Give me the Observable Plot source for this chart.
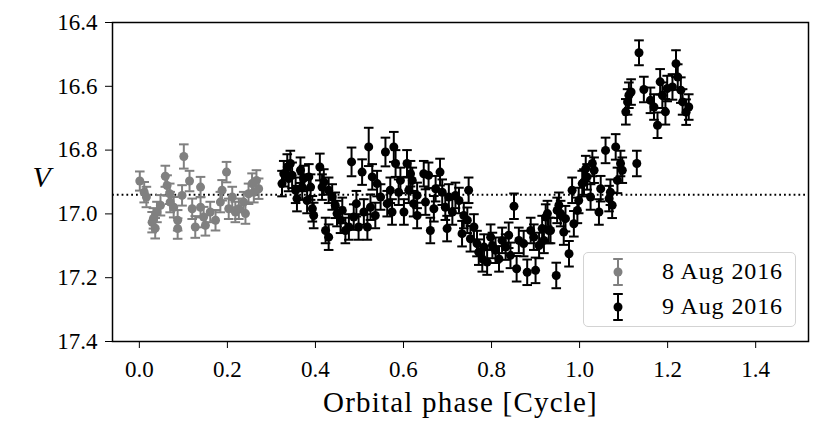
<!DOCTYPE html>
<html><head><meta charset="utf-8">
<script src="https://cdn.jsdelivr.net/npm/d3@7"></script>
<script src="https://cdn.jsdelivr.net/npm/@observablehq/plot@0.6"></script>
<style>
body{margin:0;background:#fff;}
#wrap{position:relative;width:831px;height:435px;font-family:"Liberation Serif",serif;}
.legend{position:absolute;left:583px;top:252px;width:213px;height:75px;border:1.3px solid #d3d3d3;border-radius:5px;background:rgba(255,255,255,0.85);box-sizing:border-box;}
.legend svg{position:absolute;left:0;top:0;}
.legend span{position:absolute;left:78px;font-size:24px;line-height:24px;letter-spacing:0.9px;white-space:nowrap;color:#000;}
</style></head><body><div id="wrap"></div>
<script>
// ---- data ----
const xTicks = [0, 0.2, 0.4, 0.6, 0.8, 1.0, 1.2, 1.4];
const yTicks = [16.4, 16.6, 16.8, 17.0, 17.2, 17.4];
const meanMag = 16.94;
const seriesNames = ["8 Aug 2016", "9 Aug 2016"];

const grayPhase = [0.001,0.011,0.016,0.029,0.036,0.032,0.040,0.048,0.059,0.063,
  0.069,0.070,0.078,0.087,0.087,0.097,0.101,0.114,0.120,0.127,
  0.139,0.139,0.146,0.150,0.161,0.173,0.184,0.188,0.198,0.203,
  0.211,0.218,0.226,0.237,0.241,0.248,0.256,0.260,0.266,0.271];
const grayMag = [16.897,16.932,16.947,17.026,17.045,17.014,16.994,16.973,16.882,16.911,
  16.937,16.963,16.979,17.046,17.020,16.942,16.820,16.897,16.984,17.041,
  16.916,16.979,17.010,17.036,16.994,17.020,16.963,16.926,16.869,16.984,
  16.947,16.994,16.984,16.963,16.999,16.937,16.905,16.932,16.895,16.921];
const grayErr = [0.030,0.032,0.032,0.032,0.032,0.032,0.032,0.032,0.033,0.032,
  0.032,0.032,0.032,0.032,0.032,0.032,0.038,0.032,0.032,0.034,
  0.032,0.032,0.032,0.032,0.032,0.032,0.032,0.032,0.032,0.032,
  0.032,0.032,0.032,0.032,0.032,0.032,0.032,0.032,0.032,0.032];

const blackPhase = [0.324,0.328,0.336,0.343,0.339,0.347,0.355,0.358,0.366,0.370,
  0.373,0.381,0.385,0.389,0.393,0.396,0.410,0.415,0.419,0.423,
  0.430,0.430,0.438,0.445,0.449,0.457,0.461,0.468,0.476,0.482,
  0.487,0.493,0.498,0.506,0.510,0.518,0.521,0.525,0.529,0.536,
  0.540,0.548,0.559,0.563,0.570,0.574,0.578,0.582,0.589,0.593,
  0.601,0.608,0.612,0.616,0.623,0.631,0.620,0.631,0.646,0.650,
  0.657,0.661,0.669,0.673,0.683,0.688,0.695,0.699,0.703,0.711,
  0.718,0.726,0.733,0.737,0.745,0.748,0.752,0.760,0.767,0.771,
  0.779,0.783,0.790,0.798,0.802,0.809,0.817,0.824,0.832,0.839,
  0.851,0.843,0.857,0.862,0.873,0.881,0.889,0.896,0.900,0.908,
  0.915,0.923,0.927,0.934,0.947,0.949,0.919,0.930,0.953,0.957,
  0.964,0.968,0.976,0.983,0.987,0.995,0.998,1.006,1.014,1.017,
  1.025,1.029,1.033,1.044,1.048,1.059,1.067,1.070,1.074,1.082,
  1.086,1.093,1.097,1.130,1.010,1.135,1.105,1.109,1.112,1.117,
  1.146,1.161,1.169,1.177,1.183,1.188,1.195,1.199,1.211,1.219,
  1.223,1.230,1.234,1.242,1.248];
const blackMag = [16.905,16.874,16.853,16.842,16.889,16.879,16.926,16.952,16.863,16.916,
  16.889,16.958,16.884,16.916,16.984,17.005,16.853,16.916,16.900,17.052,
  17.073,16.926,16.947,16.973,16.999,17.020,16.989,17.052,17.041,16.837,
  17.010,16.968,17.041,16.869,16.994,17.041,16.790,16.979,16.884,17.005,
  16.905,16.947,16.806,16.968,16.926,16.994,16.790,16.842,16.932,16.895,
  16.994,16.842,16.926,16.874,16.968,16.942,16.895,17.005,16.874,16.963,
  16.879,17.052,16.984,16.921,16.869,16.932,16.979,17.046,16.947,16.994,
  16.942,16.958,17.062,17.005,17.020,16.926,17.078,17.041,17.093,17.120,
  17.141,17.104,17.151,17.073,17.099,17.114,17.141,17.083,17.104,17.067,
  16.976,17.130,17.172,17.083,17.093,17.183,17.052,17.073,17.177,17.099,
  17.046,17.010,16.999,17.052,17.193,16.989,17.083,17.052,16.973,16.999,
  17.057,17.015,17.125,16.926,17.031,16.989,16.958,16.905,16.858,16.884,
  16.947,16.842,16.863,16.994,16.921,16.801,16.952,16.932,16.973,16.790,
  16.895,16.842,16.863,16.842,16.900,16.495,16.680,16.649,16.628,16.618,
  16.610,16.644,16.665,16.722,16.586,16.628,16.680,16.607,16.602,16.529,
  16.571,16.612,16.649,16.681,16.665];
const blackErr = [0.040,0.040,0.040,0.040,0.040,0.040,0.040,0.040,0.040,0.040,
  0.040,0.040,0.040,0.040,0.040,0.040,0.042,0.040,0.040,0.040,
  0.040,0.040,0.040,0.040,0.040,0.040,0.040,0.040,0.040,0.045,
  0.040,0.040,0.040,0.040,0.040,0.040,0.060,0.040,0.040,0.040,
  0.040,0.040,0.045,0.040,0.040,0.040,0.047,0.042,0.040,0.040,
  0.040,0.042,0.040,0.040,0.040,0.040,0.040,0.040,0.040,0.040,
  0.040,0.040,0.040,0.040,0.042,0.040,0.040,0.040,0.040,0.040,
  0.040,0.040,0.040,0.040,0.040,0.040,0.040,0.040,0.040,0.040,
  0.040,0.040,0.040,0.040,0.040,0.040,0.040,0.040,0.040,0.040,
  0.040,0.040,0.040,0.040,0.040,0.040,0.040,0.040,0.040,0.040,
  0.040,0.040,0.040,0.040,0.040,0.040,0.040,0.040,0.040,0.040,
  0.040,0.040,0.040,0.040,0.040,0.040,0.040,0.040,0.040,0.040,
  0.040,0.040,0.040,0.040,0.040,0.040,0.040,0.040,0.040,0.040,
  0.040,0.040,0.040,0.040,0.040,0.039,0.040,0.040,0.040,0.040,
  0.040,0.040,0.040,0.040,0.040,0.040,0.040,0.040,0.040,0.042,
  0.040,0.040,0.040,0.040,0.040];

const colors = ["#808080", "#000000"];

// ---- build ----
const gray = grayPhase.map((p, i) => ({p, m: grayMag[i], e: grayErr[i]}));
const black = blackPhase.map((p, i) => ({p, m: blackMag[i], e: blackErr[i]}));

const capSymbol = {draw(ctx, size) { const r = Math.sqrt(size / Math.PI); ctx.moveTo(-r, 0); ctx.lineTo(r, 0); }};
const SW = 2;

function errSeries(data, color) {
  return [
    Plot.ruleX(data, {x: "p", y1: d => d.m - d.e, y2: d => d.m + d.e, stroke: color, strokeWidth: SW}),
    Plot.dot(data, {x: "p", y: d => d.m - d.e, symbol: capSymbol, r: 4.8, fill: "none", stroke: color, strokeWidth: SW}),
    Plot.dot(data, {x: "p", y: d => d.m + d.e, symbol: capSymbol, r: 4.8, fill: "none", stroke: color, strokeWidth: SW}),
    Plot.dot(data, {x: "p", y: "m", r: 4.5, fill: color, stroke: "none"})
  ];
}

const chart = Plot.plot({
  width: 831, height: 435,
  marginLeft: 112, marginRight: 23, marginTop: 22, marginBottom: 94,
  style: {fontFamily: "'Liberation Serif', serif", fontSize: "23px", background: "white", color: "black"},
  x: {domain: [-0.061, 1.52], ticks: xTicks, tickFormat: d3.format(".1f"), tickSize: 7, tickPadding: 12, label: null},
  y: {domain: [16.4, 17.4], reverse: true, ticks: yTicks, tickFormat: d3.format(".1f"), tickSize: 7, tickPadding: 8, label: null},
  marks: [
    Plot.ruleY([meanMag], {stroke: "black", strokeWidth: 1.8, strokeDasharray: "1.8,3"}),
    ...errSeries(gray, colors[0]),
    ...errSeries(black, colors[1]),
    Plot.frame({stroke: "black", strokeWidth: 1.5}),
    Plot.text(["Orbital phase [Cycle]"], {text: d => d, frameAnchor: "bottom", dy: 70, fontSize: 29}),
    Plot.text(["V"], {text: d => d, frameAnchor: "left", dx: -80, dy: -5, fontSize: 30, fontStyle: "italic"})
  ]
});
const wrap = document.getElementById("wrap");
wrap.appendChild(chart);
// widen the axis title slightly to mimic the wider LaTeX font
chart.querySelectorAll("text").forEach(t => { if (t.textContent === "Orbital phase [Cycle]") t.setAttribute("letter-spacing", "1.2px"); });

// ---- legend ----
const leg = document.createElement("div");
leg.className = "legend";
const rowsY = [19, 54];
let svg = `<svg width="70" height="75">`;
seriesNames.forEach((n, i) => {
  const c = colors[i], cy = rowsY[i], cx = 34;
  svg += `<line x1="${cx}" x2="${cx}" y1="${cy-13}" y2="${cy+13}" stroke="${c}" stroke-width="2"/>`;
  svg += `<line x1="${cx-4.8}" x2="${cx+4.8}" y1="${cy-13}" y2="${cy-13}" stroke="${c}" stroke-width="2"/>`;
  svg += `<line x1="${cx-4.8}" x2="${cx+4.8}" y1="${cy+13}" y2="${cy+13}" stroke="${c}" stroke-width="2"/>`;
  svg += `<circle cx="${cx}" cy="${cy}" r="4.5" fill="${c}"/>`;
});
svg += `</svg>`;
leg.innerHTML = svg + seriesNames.map((n, i) => `<span style="top:${rowsY[i]-13}px">${n}</span>`).join("");
wrap.appendChild(leg);
</script>
</body></html>
